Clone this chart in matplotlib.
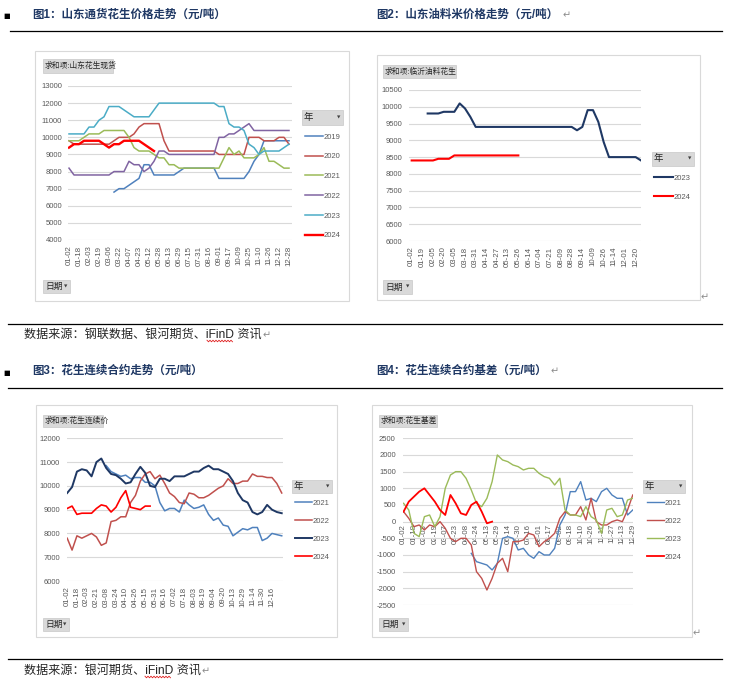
import matplotlib.pyplot as plt
import numpy as np
from matplotlib.patches import Rectangle
from matplotlib.lines import Line2D
from matplotlib.text import Annotation

plt.rcParams['font.family'] = ['Liberation Sans', 'Noto Sans CJK SC', 'DejaVu Sans']
plt.rcParams['axes.unicode_minus'] = False

nan = np.nan

# 图1 山东通货花生现货价格（每半个刻度一个点）
c1_ticks = ['01-02', '01-18', '02-03', '02-19', '03-06', '03-22', '04-07', '04-23', '05-12', '05-28',
            '06-13', '06-29', '07-15', '07-31', '08-16', '09-01', '09-17', '10-09', '10-25', '11-10',
            '11-26', '12-12', '12-28']
c1_years = ['2019', '2020', '2021', '2022', '2023', '2024']
c1_2019 = [nan] * 9 + [6800, 7000, 7000, 7200, 7400, 7600, 8400, 8400, 7800, 7800, 7800, 7800, 7800, 8000,
                       8200, 8200, 8200, 8200, 8200, 8200, 8200, 7600, 7600, 7600, 7600, 7600, 7600, 8000,
                       8600, 9000, 9800, 9800, 9800, 9800, 9800, 9800]
c1_2020 = [9800, 9600, 9600, 9600, 9600, 9600, 9600, 9600, 9600, 9800, 10000, 10000, 10000, 10200, 10600,
           10800, 10800, 10800, 10800, 9800, 9200, 9200, 9200, 9200, 9200, 9200, 9200, 9200, 9200, 9200,
           9000, 9000, 9000, 9000, 9000, 9000, 10000, 10000, 10000, 9800, 9800, 9800, 10000, 10000, 9600]
c1_2021 = [9800, 9800, 9800, 10000, 10200, 10200, 10200, 10400, 10400, 10400, 10400, 10400, 10000, 9400,
           9200, 9200, 9200, 9000, 8800, 8800, 8400, 8400, 8200, 8200, 8200, 8200, 8200, 8200, 8200, 8200,
           8200, 8800, 9400, 9000, 9200, 8800, 8800, 8800, 9000, 9400, 8600, 8600, 8400, 8200, 8200]
c1_2022 = [8200, 7800, 7800, 7800, 7800, 7800, 7800, 7800, 7800, 8000, 8000, 8000, 8600, 8400, 8400,
           8000, 8200, 8600, 9200, 9200, 9000, 9000, 9000, 9000, 9000, 9000, 9000, 9000, 9000, 9000,
           10000, 10000, 10200, 10200, 10400, 10600, 10800, 10400, 10400, 10400, 10400, 10400, 10400, 10400, 10400]
c1_2023 = [10200, 10200, 10200, 10200, 10600, 10600, 11000, 11200, 11800, 11800, 11800, 11600, 11400, 11200,
           11200, 11200, 11200, 11600, 12000, 12000, 12000, 12000, 12000, 12000, 12000, 12000, 12000, 12000,
           12000, 12000, 11800, 11800, 10800, 10600, 10600, 10400, 9600, 9400, 9000, 9200, 9200, 9200, 9200,
           9400, 9600]
c1_2024 = [9400, 9600, 9600, 9800, 9800, 9800, 9800, 9600, 9400, 9600, 9600, 9800, 9800, 9800, 9800,
           9600, 9400, 9200] + [nan] * 27

# 图2 临沂油料花生米
c2_ticks = ['01-02', '01-19', '02-05', '02-20', '03-05', '03-18', '03-31', '04-14', '04-27', '05-13',
            '05-26', '06-14', '07-04', '07-21', '08-09', '08-28', '09-14', '10-09', '10-26', '11-14',
            '12-01', '12-20']
c2_years = ['2023', '2024']
c2_2023 = [nan] * 3 + [9800, 9800, 9800, 9850, 9850, 9850, 10100, 9950, 9700, 9400] + [9400] * 18 + \
          [9300, 9400, 9900, 9900, 9550, 8950, 8500, 8500, 8500, 8500, 8500, 8500, 8400]
c2_2024 = [8400] * 5 + [8450] * 3 + [8550] * 13 + [nan] * 23

# 图3 花生连续合约价格
c3_ticks = ['01-02', '01-18', '02-03', '02-21', '03-08', '03-24', '04-10', '04-26', '05-15', '05-31',
            '06-16', '07-02', '07-18', '08-03', '08-19', '09-04', '09-20', '10-13', '10-29', '11-14',
            '11-30', '12-16']
c3_years = ['2021', '2022', '2023', '2024']
c3_2021 = [nan] * 8 + [10850, 10600, 10500, 10400, 10450, 10300, 10350, 10350, 10150, 10150, 10000, 9300,
                       8950, 9050, 9050, 8900, 9400, 9200, 9050, 9100, 9200, 8800, 8550, 8650, 8350, 8300,
                       7900, 8050, 8200, 8150, 8250, 8250, 7700, 7800, 8000, 7950, 7900]
c3_2022 = [7800, 7300, 7900, 7800, 7900, 8000, 7850, 7500, 7600, 8500, 8550, 8700, 8700, 9300, 9600,
           10200, 10500, 10600, 10300, 10450, 10100, 9700, 9550, 9300, 9250, 9700, 9650, 9500, 9500, 9600,
           9750, 9900, 10000, 10300, 10100, 10100, 10200, 10200, 10500, 10400, 10400, 10350, 10350, 10100, 9700]
c3_2023 = [9700, 9950, 10600, 10700, 10650, 10400, 11000, 11150, 10750, 10500, 10450, 10300, 10100, 10150,
           10500, 10800, 10550, 10000, 9950, 10300, 10300, 10200, 10400, 10400, 10400, 10500, 10600, 10600,
           10750, 10850, 10700, 10700, 10600, 10500, 10200, 9700, 9400, 9300, 8900, 8800, 8900, 9200, 9000,
           8900, 8850]
c3_2024 = [9050, 9150, 8800, 8850, 8850, 8850, 9050, 9200, 9150, 8900, 9100, 9500, 9800, 9100, 9050,
           9000, 9150, 9150] + [nan] * 27

# 图4 花生连续合约基差
c4_ticks = ['01-02', '01-18', '02-03', '02-19', '03-07', '03-23', '04-08', '04-24', '05-13', '05-29',
            '06-14', '06-30', '07-16', '08-01', '08-17', '09-02', '09-18', '10-10', '10-26', '11-11',
            '11-27', '12-13', '12-29']
c4_years = ['2021', '2022', '2023', '2024']
c4_2021 = [nan] * 13 + [-950, -1200, -1250, -1300, -1450, -1250, -500, -450, -500, -850, -800, -1000,
                        -1100, -900, -1000, -1000, -800, -100, 200, 900, 900, 1200, 650, 700, 600, 900,
                        1000, 800, 700, 700, 200, 350]
c4_2022 = [300, 100, -150, -100, -250, -100, -150, 0, -200, -500, -600, -500, -500, -700, -1500, -1700,
           -2050, -1700, -1250, -1100, -1500, -600, -600, -550, -350, -400, -750, -600, -500, -350, 100,
           300, 200, 200, 450, 50, 700, 0, -100, -100, 0, 50, 0, 350, 800]
c4_2023 = [550, 350, -350, -450, 150, 200, -150, 150, 1000, 1400, 1500, 1500, 1300, 950, 550, 450, 700,
           1200, 2000, 1850, 1800, 1700, 1650, 1550, 1600, 1600, 1450, 1350, 1300, 1100, 1300, 350, 200,
           200, 150, 450, 150, 50, -350, 350, 400, 150, 200, 650, 700]
c4_2024 = [300, 600, 750, 900, 1000, 800, 600, 350, 200, 800, 550, 250, 200, 500, 600, 300, -50, 0] + [nan] * 27

W, H = 734, 684
fig = plt.figure(figsize=(W / 100, H / 100), dpi=100)


def fx(x):
    return x / W


def fy(y):
    return 1 - y / H


def hline(x0, x1, y, lw=0.9, color='black'):
    fig.add_artist(Line2D([fx(x0), fx(x1)], [fy(y), fy(y)], color=color, lw=lw))


def squiggle(x0, x1, y):
    # 拼写检查的红色波浪线
    xs = np.arange(x0, x1 + 0.1, 1.5)
    ys = y + np.where(np.arange(len(xs)) % 2 == 0, -0.8, 0.8)
    fig.add_artist(Line2D(fx(xs), fy(ys), color='#E02020', lw=0.6))


def box(x0, y0, x1, y1, fc, ec, lw=0.8, z=1):
    fig.add_artist(Rectangle((fx(x0), fy(y1)), (x1 - x0) / W, (y1 - y0) / H,
                             facecolor=fc, edgecolor=ec, lw=lw, zorder=z))


def enter_mark(t, dx=2):
    fig.add_artist(Annotation('↵', xy=(1, 0.45), xycoords=t, xytext=(dx, 0), textcoords='offset points',
                              va='center', ha='left', fontsize=7, color='#8C8C8C', family='DejaVu Sans'))


def button(x0, y0, x1, y1, label, fs=6.5, arrow=True):
    box(x0, y0, x1, y1, '#D9D9D9', '#C8C8C8', 0.5)
    fig.text(fx(x0 + 2), fy((y0 + y1) / 2), label, fontsize=fs, va='center', ha='left', color='#262626')
    if arrow:
        fig.text(fx(x1 - 3), fy((y0 + y1) / 2), '▼', fontsize=3.2, va='center', ha='right',
                 color='#404040', family='DejaVu Sans')


def make_axes(plot, ticks, xlim, ylim, yticks, xpad, ypad, zero_axis=False):
    x0, y0, x1, y1 = plot
    ax = fig.add_axes([fx(x0), fy(y1), (x1 - x0) / W, (y1 - y0) / H])
    ax.set_zorder(2)
    if zero_axis:
        ax.spines['bottom'].set_position(('data', 0))
    ax.set_xlim(xlim)
    ax.set_ylim(ylim)
    ax.set_yticks(yticks)
    ax.set_xticks(np.arange(len(ticks)) * 2)
    ax.set_xticklabels(ticks)
    for s in ax.spines.values():
        s.set_visible(False)
    ax.grid(axis='y', color='#D9D9D9', lw=0.8)
    ax.set_axisbelow(True)
    ax.tick_params(axis='both', length=0, labelsize=5.5, labelcolor='#595959')
    ax.tick_params(axis='x', pad=xpad, labelsize=5.7, labelrotation=90)
    ax.tick_params(axis='y', pad=ypad)
    ax.patch.set_alpha(0)
    return ax


def add_legend(ax, lines, labels, x, y_first, spacing, hlen):
    fs = 5.5
    fs_px = fs / 72 * 100
    row = fs_px * 0.96
    ax.legend(lines, labels, loc='upper left', bbox_to_anchor=(fx(x), fy(y_first - row / 2 + 1)),
              bbox_transform=fig.transFigure, frameon=False, fontsize=fs, handlelength=hlen,
              handletextpad=0.1, labelspacing=(spacing - row) / fs_px, borderpad=0,
              borderaxespad=0, labelcolor='#595959')


# 页面文字与分隔线
title_kw = dict(fontsize=8.3, fontweight='bold', color='#1F3864', va='center', ha='left')
fig.text(fx(3), fy(16), '■', fontsize=5, va='center', ha='left', color='black', family='DejaVu Sans')
fig.text(fx(32), fy(15), '图1：山东通货花生价格走势（元/吨）', **title_kw)
t2 = fig.text(fx(376), fy(15), '图2：山东油料米价格走势（元/吨）', **title_kw)
enter_mark(t2, 3)
hline(10, 722, 31)

fig.text(fx(3), fy(373), '■', fontsize=5, va='center', ha='left', color='black', family='DejaVu Sans')
fig.text(fx(32), fy(371), '图3：花生连续合约走势（元/吨）', **title_kw)
t4 = fig.text(fx(376), fy(371), '图4：花生连续合约基差（元/吨）', **title_kw)
enter_mark(t4, 3)
hline(8, 722, 324)
hline(8, 722, 388)
hline(8, 722, 659)

src_kw = dict(fontsize=8.7, color='#262626', va='center', ha='left')
s1 = fig.text(fx(24), fy(335), '数据来源：钢联数据、银河期货、iFinD 资讯', **src_kw)
enter_mark(s1, 0.5)
squiggle(207, 233, 341)
s2 = fig.text(fx(24), fy(671), '数据来源：银河期货、iFinD 资讯', **src_kw)
enter_mark(s2, 0.5)
squiggle(145, 171, 677)
fig.text(fx(701), fy(297), '↵', fontsize=7, color='#8C8C8C', va='center', family='DejaVu Sans')
fig.text(fx(693), fy(633), '↵', fontsize=7, color='#8C8C8C', va='center', family='DejaVu Sans')

# ---------- 图1 ----------
box(35, 51, 349, 301, 'white', '#D9D9D9', 0.8, z=0)
button(43, 59, 113, 73, '求和项:山东花生现货', fs=5.6, arrow=False)
button(43, 280, 70, 293, '日期', fs=6.3)
button(302, 110, 343, 125, '年', fs=6.8)
ax1 = make_axes((68, 86, 292, 240), c1_ticks, (-0.2, 44.6), (4000, 13000),
                np.arange(4000, 13001, 1000), 4.0, 4.3)
x1 = np.arange(45)
c1_colors = ['#4F81BD', '#C0504D', '#9BBB59', '#8064A2', '#4BACC6', '#FF0000']
lines = []
for vals, col in zip([c1_2019, c1_2020, c1_2021, c1_2022, c1_2023, c1_2024], c1_colors):
    lw = 1.7 if col == '#FF0000' else 1.1
    ln, = ax1.plot(x1, vals, color=col, lw=lw)
    lines.append(ln)
add_legend(ax1, lines, c1_years, 305, 136, 19.7, 2.3)

# ---------- 图2 ----------
box(377, 55, 700, 300, 'white', '#D9D9D9', 0.8, z=0)
button(383, 65, 456, 78, '求和项:临沂油料花生', fs=5.6, arrow=False)
button(383, 280, 412, 294, '日期', fs=6.3)
button(652, 152, 694, 166, '年', fs=6.8)
ax2 = make_axes((409, 90, 641, 241), c2_ticks, (-0.5, 43.0), (6000, 10500),
                np.arange(6000, 10501, 500), 4.0, 5.0)
x2 = np.arange(44)
lines = []
for vals, col in zip([c2_2023, c2_2024], ['#1F3864', '#FF0000']):
    ln, = ax2.plot(x2, vals, color=col, lw=1.5)
    lines.append(ln)
add_legend(ax2, lines, c2_years, 654, 177, 19, 2.45)

# ---------- 图3 ----------
box(36, 405, 337, 637, 'white', '#D9D9D9', 0.8, z=0)
button(43, 415, 103, 427, '求和项:花生连续价', fs=5.6, arrow=False)
button(43, 618, 69, 631, '日期', fs=6.3)
button(292, 480, 332, 493, '年', fs=6.8)
ax3 = make_axes((66.7, 438.3, 282.7, 581), c3_ticks, (-0.1, 44.2), (6000, 12000),
                np.arange(6000, 12001, 1000), 4.0, 4.8)
x3 = np.arange(45)
lines = []
for vals, col, lw in zip([c3_2021, c3_2022, c3_2023, c3_2024],
                         ['#4F81BD', '#C0504D', '#1F3864', '#FF0000'], [1.1, 1.1, 1.4, 1.2]):
    ln, = ax3.plot(x3, vals, color=col, lw=lw)
    lines.append(ln)
add_legend(ax3, lines, c3_years, 295, 502, 18, 2.2)

# ---------- 图4 ----------
box(372, 405, 692, 637, 'white', '#D9D9D9', 0.8, z=0)
button(379, 415, 437, 427, '求和项:花生基差', fs=5.6, arrow=False)
button(379, 618, 408, 631, '日期', fs=6.3)
button(643, 480, 685, 493, '年', fs=6.8)
ax4 = make_axes((403.3, 438.3, 633.3, 605), c4_ticks, (-0.05, 44.1), (-2500, 2500),
                np.arange(-2500, 2501, 500), 1.5, 5.4, zero_axis=True)
x4 = np.arange(45)
lines = []
for vals, col, lw in zip([c4_2021, c4_2022, c4_2023, c4_2024],
                         ['#4F81BD', '#C0504D', '#9BBB59', '#FF0000'], [1.0, 1.0, 1.0, 1.3]):
    ln, = ax4.plot(x4, vals, color=col, lw=lw)
    lines.append(ln)
add_legend(ax4, lines, c4_years, 647, 502, 18, 2.2)

fig.savefig('out.png', dpi=100)
